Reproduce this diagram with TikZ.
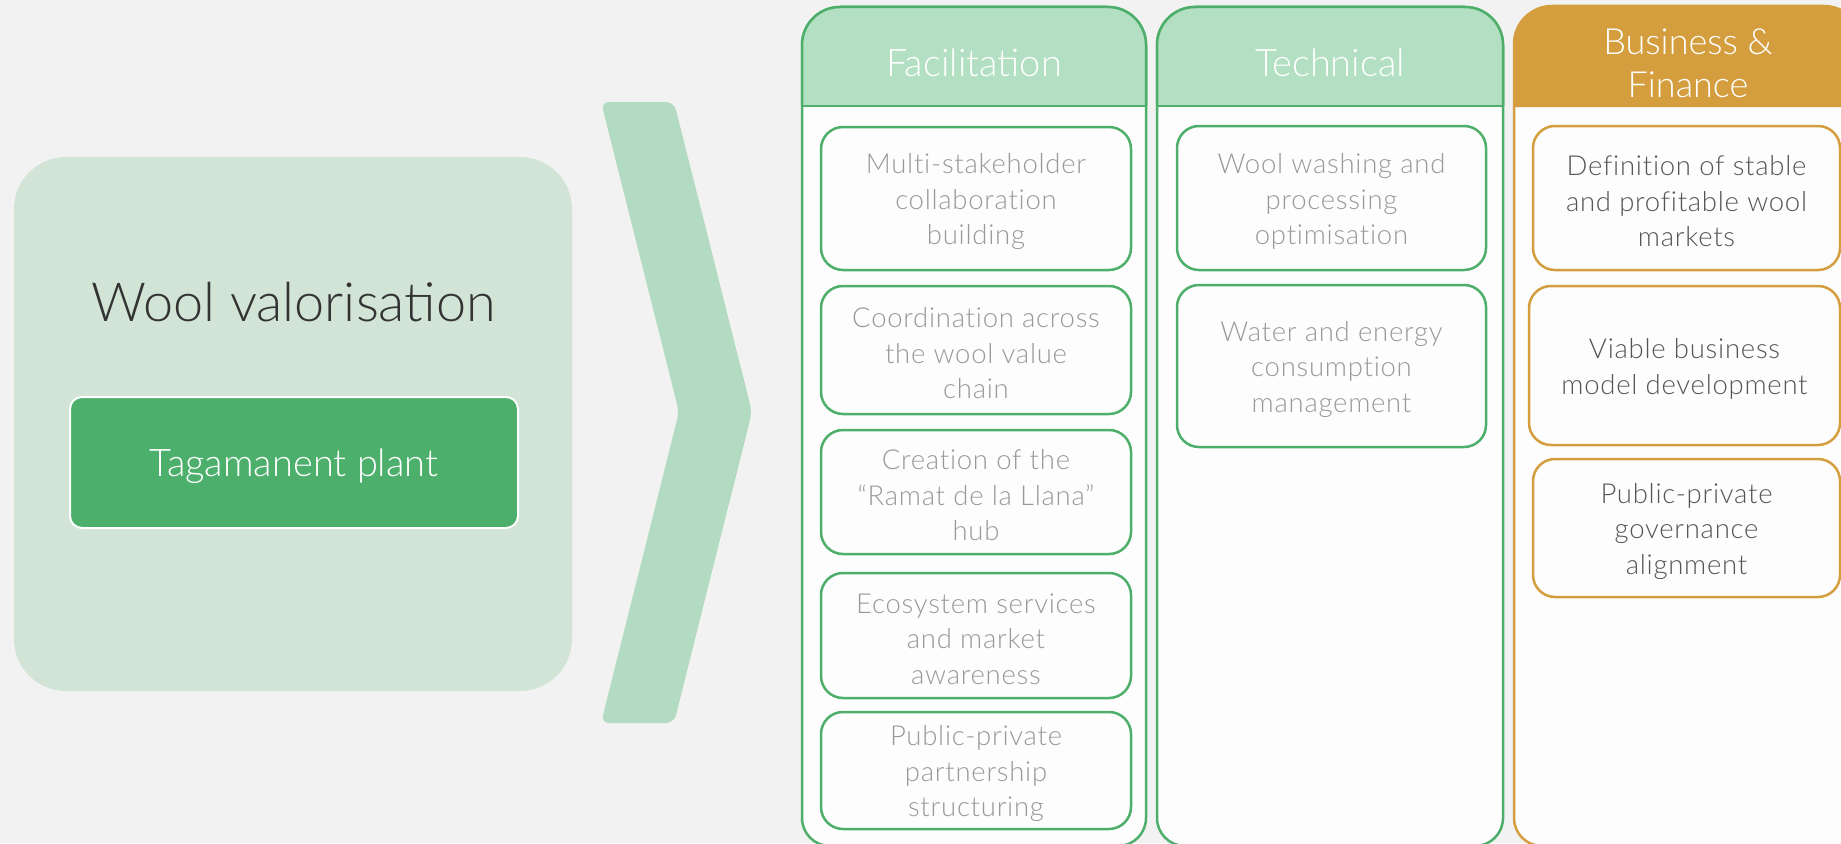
\documentclass[tikz,border=0pt]{standalone}
\usepackage{fontspec}
\IfFontExistsTF{Lato Light}{\setmainfont{Lato Light}}{\setmainfont{Lato}}
\definecolor{bg}{HTML}{F2F2F2}
\definecolor{leftfill}{HTML}{D1E4D6}
\definecolor{chev}{HTML}{B3DBC1}
\definecolor{tgreen}{HTML}{4CAF6B}
\definecolor{gline}{HTML}{4DAF6A}
\definecolor{ghead}{HTML}{B3DFC3}
\definecolor{orange}{HTML}{D49E3E}
\definecolor{bodyfill}{HTML}{FDFDFD}
\definecolor{itemgray}{HTML}{999999}
\definecolor{bustext}{HTML}{555555}
\definecolor{titlegray}{HTML}{333333}
\tikzset{
  itembox/.style={draw=#1, line width=2.5pt, fill=bodyfill, rounded corners=22pt, inner sep=0pt},
  itemtext/.style={align=center, inner sep=0pt,
    font=\fontsize{27.5}{35.5}\selectfont\addfontfeature{LetterSpace=2.7,Ligatures=CommonOff}},
  headtext/.style={anchor=base, text=white, font=\fontsize{38}{41}\selectfont},
}
\begin{document}
\begin{tikzpicture}[x=1pt,y=-1pt]
\useasboundingbox (0,0) rectangle (1841,843);
\fill[bg] (0,0) rectangle (1841,843);

% left block
\node[fill=leftfill, rounded corners=52pt, minimum width=558pt, minimum height=534pt, inner sep=0pt] (wv) at (293,424) {};
\node[anchor=base, text=titlegray, font=\fontsize{54}{64}\selectfont] (wvtitle) at (293.5,321) {Wool valorisation};
\node[draw=white, line width=2pt, fill=tgreen, rounded corners=12pt, minimum width=448pt, minimum height=131pt, inner sep=0pt] (tag) at (294,462.5) {};
\node[anchor=base, text=white, font=\fontsize{38}{46}\selectfont] (tagtext) at (294,476) {Tagamanent plant};

% chevron
\fill[chev, rounded corners=8pt] (601,102) -- (674,102) -- (752,412) -- (674,723) -- (601,723) -- (679,412) -- cycle;

% Facilitation column
\draw[gline, line width=2.5pt, fill=bodyfill] (802,300) [rounded corners=38pt] -- (802,7) -- (1146,7) -- (1146,300) [rounded corners=28pt] -- (1146,846) -- (802,846) -- cycle;
\fill[ghead] (802,106) [rounded corners=38pt] -- (802,7) -- (1146,7) [sharp corners] -- (1146,106) -- cycle;
\draw[gline, line width=2.5pt, rounded corners=38pt] (802,106) -- (802,7) -- (1146,7) -- (1146,106);
\draw[gline, line width=2.5pt] (802,106) -- (1146,106);
\node[headtext] (hfac) at (974,77) {Facilitation};

% Technical column
\draw[gline, line width=2.5pt, fill=bodyfill] (1157,300) [rounded corners=38pt] -- (1157,7) -- (1503,7) -- (1503,300) [rounded corners=28pt] -- (1503,846) -- (1157,846) -- cycle;
\fill[ghead] (1157,106) [rounded corners=38pt] -- (1157,7) -- (1503,7) [sharp corners] -- (1503,106) -- cycle;
\draw[gline, line width=2.5pt, rounded corners=38pt] (1157,106) -- (1157,7) -- (1503,7) -- (1503,106);
\draw[gline, line width=2.5pt] (1157,106) -- (1503,106);
\node[headtext] (htec) at (1330,77) {Technical};

% Business column
\draw[orange, line width=2.5pt, fill=bodyfill] (1514,300) [rounded corners=38pt] -- (1514,6) -- (1862,6) -- (1862,300) [rounded corners=28pt] -- (1862,846) -- (1514,846) -- cycle;
\fill[orange] (1514,107) [rounded corners=38pt] -- (1514,6) -- (1862,6) [sharp corners] -- (1862,107) -- cycle;
\node[headtext, font=\fontsize{36}{41}\selectfont] (hbus1) at (1688,55) {Business \&};
\node[headtext, font=\fontsize{36}{41}\selectfont] (hbus2) at (1688,97) {Finance};

% Facilitation items
\node[itembox=gline, minimum width=310pt, minimum height=143pt] (f1) at (976,198.5) {};
\node[itemtext, text=itemgray] (f1t) at ([yshift=-3.5pt]f1.center) {Multi-stakeholder\\collaboration\\building};
\node[itembox=gline, minimum width=310pt, minimum height=128pt] (f2) at (976,350) {};
\node[itemtext, text=itemgray] (f2t) at ([yshift=-3.5pt]f2.center) {Coordination across\\the wool value\\chain};
\node[itembox=gline, minimum width=310pt, minimum height=124pt] (f3) at (976,492) {};
\node[itemtext, text=itemgray] (f3t) at ([yshift=-3.5pt]f3.center) {Creation of the\\“Ramat de la Llana”\\hub};
\node[itembox=gline, minimum width=310pt, minimum height=125pt] (f4) at (976,635.5) {};
\node[itemtext, text=itemgray] (f4t) at ([yshift=-3.5pt]f4.center) {Ecosystem services\\and market\\awareness};
\node[itembox=gline, minimum width=310pt, minimum height=117pt] (f5) at (976,770.5) {};
\node[itemtext, text=itemgray] (f5t) at ([yshift=-3.5pt]f5.center) {Public-private\\partnership\\structuring};

% Technical items
\node[itembox=gline, minimum width=309pt, minimum height=144pt] (t1) at (1331.5,198) {};
\node[itemtext, text=itemgray] (t1t) at ([yshift=-3.5pt]t1.center) {Wool washing and\\processing\\optimisation};
\node[itembox=gline, minimum width=309pt, minimum height=162pt] (t2) at (1331.5,366) {};
\node[itemtext, text=itemgray] (t2t) at ([yshift=-3.5pt]t2.center) {Water and energy\\consumption\\management};

% Business items
\node[itembox=orange, minimum width=307pt, minimum height=144pt] (b1) at (1686.5,198) {};
\node[itemtext, text=bustext] (b1t) at ([yshift=-3.5pt]b1.center) {Definition of stable\\and profitable wool\\markets};
\node[itembox=orange, minimum width=311pt, minimum height=159pt] (b2) at (1684.5,365.5) {};
\node[itemtext, text=bustext] (b2t) at ([yshift=-3.5pt]b2.center) {Viable business\\model development};
\node[itembox=orange, minimum width=307pt, minimum height=138pt] (b3) at (1686.5,528) {};
\node[itemtext, text=bustext] (b3t) at ([yshift=-3.5pt]b3.center) {Public-private\\governance\\alignment};
\end{tikzpicture}
\end{document}
